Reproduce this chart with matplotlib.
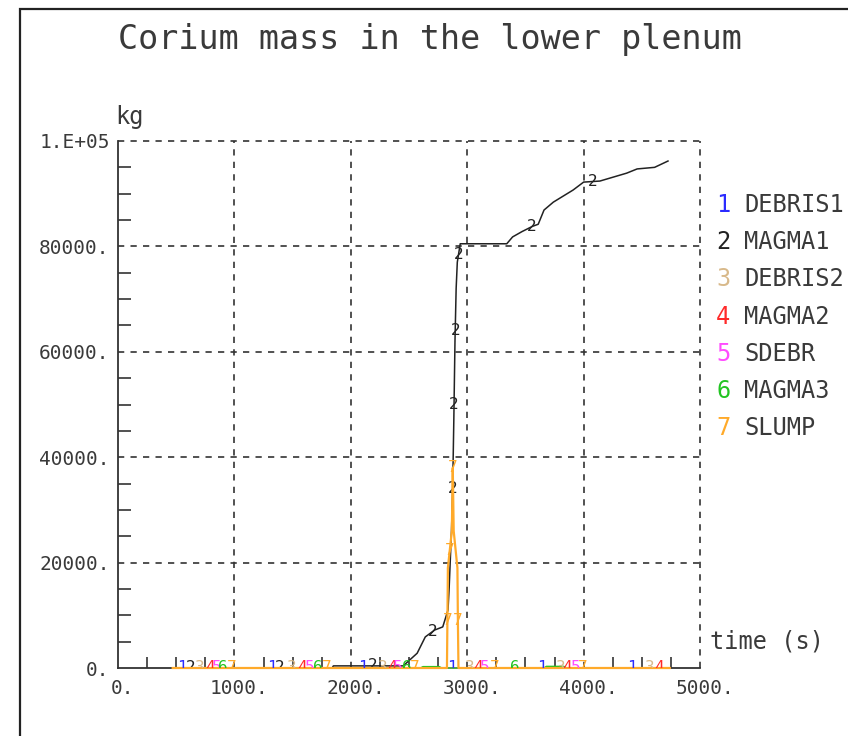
import matplotlib
matplotlib.use('Agg')
import matplotlib.pyplot as plt
import matplotlib.transforms as mtransforms
from matplotlib.patches import Rectangle
import numpy as np

plt.rcParams['font.family'] = ['DejaVu Sans Mono']
plt.rcParams['lines.scale_dashes'] = False

# --- data ---
names = ['DEBRIS1', 'MAGMA1', 'DEBRIS2', 'MAGMA2', 'SDEBR', 'MAGMA3', 'SLUMP']
colors = ['#2b2bff', '#222222', '#d8b98a', '#ff2a2a', '#ff4cff', '#22c422', '#ffaa2a']

t_debris1 = [470, 4740]
m_debris1 = [0, 0]

t_magma1 = [470, 1840, 1850, 2450, 2490, 2570, 2640, 2720, 2790, 2835, 2845,
            2865, 2875, 2885, 2895, 2905, 2915, 2940, 3340, 3390, 3470, 3560,
            3610, 3660, 3740, 3910, 4000, 4140, 4370, 4460, 4610, 4725]
m_magma1 = [0, 0, 400, 400, 1200, 2800, 5900, 7200, 7800, 11000, 15200,
            26000, 34000, 47000, 62000, 72000, 77000, 80500, 80500, 81800, 82800, 83800,
            84200, 86900, 88400, 90700, 92200, 92400, 93900, 94700, 95000, 96200]

t_debris2 = [470, 4740]
m_debris2 = [0, 0]

t_magma2 = [470, 4740]
m_magma2 = [0, 0]

t_sdebr = [470, 4740]
m_sdebr = [0, 0]

t_magma3 = [470, 2600, 2620, 2760, 2780, 3660, 3680, 3830, 3850, 4740]
m_magma3 = [0, 0, 250, 250, 0, 0, 300, 300, 0, 0]

t_slump = [470, 2826, 2830, 2834, 2868, 2876, 2884, 2916, 2920, 2925, 4740]
m_slump = [0, 0, 9000, 19000, 26000, 38000, 26000, 19000, 9000, 0, 0]

# times at which the curve number is printed on each curve
lab_debris1 = [550, 1323, 2105, 2870, 3640, 4415]
lab_magma1 = [627, 1392, 2190, 2700, 2875, 2887, 2897, 2925, 3557, 4080]
lab_debris2 = [704, 1495, 2276, 3020, 3800, 4570]
lab_magma2 = [790, 1580, 2353, 3090, 3860, 4650]
lab_sdebr = [850, 1650, 2405, 3150, 3930]
lab_magma3 = [902, 1718, 2482, 3410]
lab_slump = [980, 1795, 2550, 2830, 2850, 2876, 2920, 3240, 3995]

series_t = [t_debris1, t_magma1, t_debris2, t_magma2, t_sdebr, t_magma3, t_slump]
series_m = [m_debris1, m_magma1, m_debris2, m_magma2, m_sdebr, m_magma3, m_slump]
series_lab = [lab_debris1, lab_magma1, lab_debris2, lab_magma2, lab_sdebr, lab_magma3, lab_slump]

x_ticks = [0, 1000, 2000, 3000, 4000, 5000]
x_ticklabels = ['0.', '1000.', '2000.', '3000.', '4000.', '5000.']
y_ticks = [0, 20000, 40000, 60000, 80000, 100000]
y_ticklabels = ['0.', '20000.', '40000.', '60000.', '80000.', '1.E+05']

W, H = 848, 736
fig = plt.figure(figsize=(W / 100, H / 100), dpi=100)
ax = fig.add_axes([118 / W, 1 - 668 / H, (700 - 118) / W, (668 - 141) / H])

txt = '#3a3a3a'
grid_kw = dict(color='#333333', lw=1.2, dashes=(4.5, 4.5), clip_on=False, zorder=1)
for v in x_ticks[1:]:
    ax.axvline(v, **grid_kw)
for v in y_ticks[1:]:
    ax.axhline(v, **grid_kw)

for i in range(7):
    lw = 1.6 if i == 6 else 1.1
    ax.plot(series_t[i], series_m[i], color=colors[i], lw=lw, clip_on=False, zorder=3 + i * 0.1)
    for tl in series_lab[i]:
        mv = np.interp(tl, series_t[i], series_m[i])
        kw = {}
        if i == 1:
            kw['bbox'] = dict(boxstyle='square,pad=0.05', fc='white', ec='none')
        ax.text(tl, mv, str(i + 1), color=colors[i], fontsize=11.5, ha='center', va='center',
                clip_on=True, zorder=3.05 if i == 1 else 4, **kw)

ax.set_xlim(0, 5000)
ax.set_ylim(0, 100000)
for s in ['top', 'right']:
    ax.spines[s].set_visible(False)
for s in ['left', 'bottom']:
    ax.spines[s].set_color('#333333')
    ax.spines[s].set_linewidth(1.3)

ax.set_xticks(x_ticks)
ax.set_xticklabels(x_ticklabels)
ax.set_yticks(y_ticks)
ax.set_yticklabels(y_ticklabels)
ax.set_xticks(np.arange(250, 5000, 250), minor=True)
ax.set_yticks(np.arange(5000, 100000, 5000), minor=True)
ax.tick_params(which='major', length=0, labelsize=14, labelcolor=txt)
ax.tick_params(axis='x', which='major', pad=8)
ax.tick_params(axis='y', which='major', pad=6)
ax.tick_params(which='minor', direction='in', color='#333333', width=1.2)
ax.tick_params(axis='x', which='minor', length=8)
ax.tick_params(axis='y', which='minor', length=9)
shift = mtransforms.ScaledTranslation(5 / 100, 0, fig.dpi_scale_trans)
for lab in ax.get_xticklabels():
    lab.set_transform(lab.get_transform() + shift)

fig.text(430 / W, 1 - 40 / H, 'Corium mass in the lower plenum', fontsize=24,
         color=txt, ha='center', va='center')
fig.text(115 / W, 1 - 117 / H, 'kg', fontsize=17, color=txt, ha='left', va='center')
fig.text(710 / W, 1 - 641 / H, 'time (s)', fontsize=17, color=txt, ha='left', va='center')

for i, name in enumerate(names):
    y = 1 - (205 + i * 37.2) / H
    fig.text(716 / W, y, str(i + 1), fontsize=17, color=colors[i], ha='left', va='center')
    fig.text(744 / W, y, name, fontsize=17, color=txt, ha='left', va='center')

fig.patches.append(Rectangle((20 / W, -0.5), 2, 0.5 + 1 - 9 / H, transform=fig.transFigure,
                             fill=False, ec='#222222', lw=1.6))

plt.savefig('out.png', dpi=100)
plt.close()
